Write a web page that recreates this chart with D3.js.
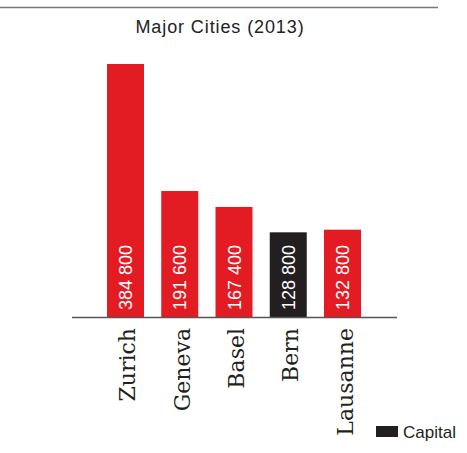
<!DOCTYPE html>
<html>
<head>
  <meta charset="utf-8">
  <title>Major Cities (2013)</title>
  <style>
    body { margin: 0; background: #fff; }
    .title { font-family: "Liberation Sans", Arial, sans-serif; font-size: 18px; letter-spacing: 0.9px; fill: #222; text-anchor: middle; }
    .val { font-family: "Liberation Sans", Arial, sans-serif; font-size: 18px; fill: #fff; }
    .cat { font-family: "DejaVu Serif", serif; font-size: 22px; fill: #231f20; text-anchor: end; }
    .legend text { font-family: "Liberation Sans", Arial, sans-serif; font-size: 17px; fill: #231f20; }
  </style>
  <script src="https://d3js.org/d3.v7.min.js"></script>
</head>
<body>
  <script>
    // data
    var cities = ['Zurich', 'Geneva', 'Basel', 'Bern', 'Lausanne'];
    var population = [384800, 191600, 167400, 128800, 132800];
    var labels = ['384 800', '191 600', '167 400', '128 800', '132 800'];
    var capital = ['Bern'];

    var width = 467, height = 453;
    var red = '#e31b23', dark = '#231f20';

    var svg = d3.select('body').append('svg')
      .attr('width', width)
      .attr('height', height);

    // top rule + title
    svg.append('line')
      .attr('x1', 0).attr('x2', 438)
      .attr('y1', 7.5).attr('y2', 7.5)
      .attr('stroke', '#777').attr('stroke-width', 1.4);

    svg.append('text')
      .attr('class', 'title')
      .attr('x', 220).attr('y', 33)
      .text('Major Cities (2013)');

    // scales
    var x = d3.scaleBand()
      .domain(cities)
      .range([107, 361])
      .paddingInner(0.318)
      .paddingOuter(0);
    var y = d3.scaleLinear()
      .domain([0, d3.max(population)])
      .range([317, 64]);

    var data = cities.map(function(c, i) {
      return {city: c, value: population[i], label: labels[i]};
    });

    // bars
    svg.selectAll('.bar')
      .data(data)
      .enter().append('rect')
      .attr('class', 'bar')
      .attr('x', d => x(d.city))
      .attr('y', d => y(d.value))
      .attr('width', x.bandwidth())
      .attr('height', d => y(0) - y(d.value))
      .attr('fill', d => capital.indexOf(d.city) >= 0 ? dark : red);

    // value labels inside bars
    svg.selectAll('.val')
      .data(data)
      .enter().append('text')
      .attr('class', 'val')
      .attr('transform', d => 'translate(' + (x(d.city) + x.bandwidth() / 2 + 6.5) + ',310) rotate(-90)')
      .text(d => d.label);

    // baseline
    svg.append('line')
      .attr('x1', 72).attr('x2', 397)
      .attr('y1', y(0) + 0.5).attr('y2', y(0) + 0.5)
      .attr('stroke', '#555').attr('stroke-width', 1.3);

    // category labels
    svg.selectAll('.cat')
      .data(data)
      .enter().append('text')
      .attr('class', 'cat')
      .attr('transform', d => 'translate(' + (x(d.city) + x.bandwidth() / 2 + 10) + ',328) rotate(-90)')
      .text(d => d.city);

    // legend
    var lg = svg.append('g').attr('class', 'legend');
    lg.append('rect')
      .attr('x', 376).attr('y', 426)
      .attr('width', 22).attr('height', 11)
      .attr('fill', dark);
    lg.append('text')
      .attr('x', 403).attr('y', 437.5)
      .text('Capital');
  </script>
</body>
</html>
